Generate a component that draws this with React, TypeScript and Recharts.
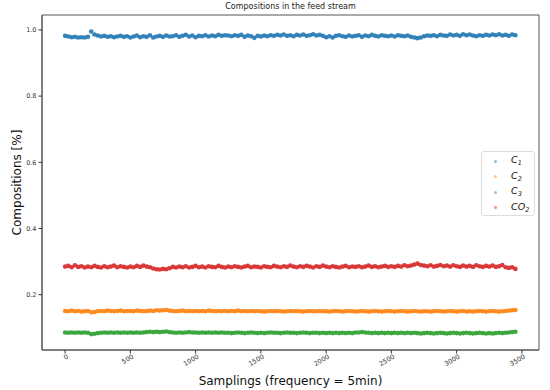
import React from "react";
import { ScatterChart, Scatter, XAxis, YAxis, Label, ReferenceArea } from "recharts";

// sampling index, one point every 25 samples (0 .. 3450)
const STEP = 25;

const c1 = [
  0.982, 0.98, 0.978, 0.979, 0.977, 0.978, 0.977, 0.979, 0.995, 0.986,
  0.983, 0.98, 0.982, 0.979, 0.981, 0.978, 0.98, 0.982, 0.979, 0.981,
  0.977, 0.98, 0.983, 0.978, 0.981, 0.979, 0.984, 0.977, 0.98, 0.982,
  0.979, 0.983, 0.98, 0.981, 0.984, 0.979, 0.982, 0.985, 0.98, 0.983,
  0.978, 0.982, 0.981, 0.984, 0.98, 0.983, 0.981, 0.985, 0.982, 0.984,
  0.983, 0.981, 0.984, 0.982, 0.985, 0.979, 0.983, 0.981, 0.976, 0.982,
  0.98, 0.983, 0.981, 0.984, 0.982, 0.985, 0.983, 0.986, 0.982, 0.984,
  0.981, 0.985, 0.983, 0.986, 0.982, 0.984, 0.987, 0.983, 0.985, 0.982,
  0.978, 0.981, 0.977, 0.982, 0.984, 0.981, 0.979, 0.983, 0.98, 0.982,
  0.984, 0.979, 0.983, 0.981, 0.985, 0.982, 0.98, 0.984, 0.982, 0.981,
  0.983, 0.98, 0.984, 0.982, 0.981, 0.983, 0.979, 0.977, 0.975, 0.977,
  0.981, 0.983, 0.982, 0.984, 0.981, 0.985, 0.983, 0.982, 0.986, 0.983,
  0.985, 0.982, 0.987, 0.984, 0.986, 0.983, 0.981, 0.984, 0.982, 0.985,
  0.983, 0.986, 0.984, 0.987, 0.983, 0.985, 0.982, 0.986, 0.984,
];

const c2 = [
  0.151, 0.15, 0.152, 0.15, 0.151, 0.149, 0.15, 0.151, 0.147, 0.148,
  0.15, 0.151, 0.15, 0.152, 0.151, 0.15, 0.151, 0.152, 0.15, 0.151,
  0.151, 0.15, 0.152, 0.151, 0.15, 0.151, 0.152, 0.151, 0.153, 0.152,
  0.153, 0.154, 0.152, 0.151, 0.15, 0.151, 0.152, 0.15, 0.151, 0.15,
  0.151, 0.15, 0.151, 0.15, 0.152, 0.151, 0.15, 0.151, 0.15, 0.151,
  0.15, 0.151, 0.15, 0.152, 0.15, 0.151, 0.15, 0.151, 0.15, 0.151,
  0.15, 0.149, 0.15, 0.151, 0.15, 0.151, 0.15, 0.149, 0.15, 0.151,
  0.15, 0.151, 0.15, 0.149, 0.15, 0.151, 0.15, 0.15, 0.151, 0.15,
  0.15, 0.149, 0.15, 0.151, 0.15, 0.149, 0.15, 0.151, 0.15, 0.149,
  0.15, 0.151, 0.15, 0.149, 0.15, 0.151, 0.15, 0.149, 0.15, 0.151,
  0.15, 0.149, 0.15, 0.151, 0.15, 0.149, 0.15, 0.151, 0.15, 0.149,
  0.15, 0.15, 0.149, 0.15, 0.151, 0.15, 0.149, 0.15, 0.151, 0.15,
  0.149, 0.15, 0.151, 0.149, 0.15, 0.149, 0.15, 0.151, 0.15, 0.149,
  0.15, 0.151, 0.15, 0.149, 0.15, 0.151, 0.152, 0.153, 0.154,
];

const c3 = [
  0.086, 0.085, 0.086, 0.085, 0.086, 0.085, 0.086, 0.085, 0.081, 0.082,
  0.084, 0.085, 0.086, 0.085, 0.086, 0.085, 0.086, 0.085, 0.086, 0.085,
  0.086, 0.085, 0.086, 0.085, 0.086, 0.087, 0.088, 0.087, 0.088, 0.087,
  0.088, 0.089, 0.087, 0.086, 0.085, 0.086, 0.085, 0.086, 0.087, 0.086,
  0.086, 0.085, 0.086, 0.085, 0.086, 0.085, 0.086, 0.085, 0.086, 0.085,
  0.085, 0.084, 0.085, 0.086, 0.085, 0.084, 0.085, 0.086, 0.085, 0.084,
  0.085, 0.084, 0.085, 0.086, 0.085, 0.085, 0.084, 0.085, 0.086, 0.085,
  0.085, 0.084, 0.085, 0.086, 0.085, 0.084, 0.085, 0.085, 0.084, 0.085,
  0.084, 0.085, 0.084, 0.085, 0.084, 0.085, 0.084, 0.085, 0.084, 0.086,
  0.086, 0.087, 0.086, 0.085, 0.084, 0.085, 0.084, 0.085, 0.084, 0.085,
  0.084, 0.085, 0.084, 0.085, 0.084, 0.085, 0.084, 0.085, 0.084, 0.083,
  0.084, 0.085, 0.084, 0.083, 0.084, 0.085, 0.084, 0.083, 0.084, 0.085,
  0.084, 0.083, 0.084, 0.085, 0.084, 0.083, 0.084, 0.085, 0.084, 0.083,
  0.084, 0.083, 0.084, 0.085, 0.084, 0.085, 0.086, 0.087, 0.088,
];

const co2 = [
  0.285, 0.287, 0.283, 0.289, 0.284, 0.286, 0.282, 0.285, 0.283, 0.287,
  0.284, 0.282, 0.286, 0.283, 0.285, 0.288, 0.283, 0.286, 0.284, 0.282,
  0.285, 0.283, 0.287, 0.284, 0.288, 0.285, 0.283, 0.279, 0.277, 0.276,
  0.278, 0.277, 0.28, 0.284, 0.282, 0.285, 0.283, 0.286, 0.282, 0.284,
  0.287, 0.283, 0.285, 0.282, 0.286, 0.284, 0.283, 0.287, 0.284, 0.282,
  0.285, 0.283, 0.286, 0.284, 0.282, 0.285, 0.287, 0.283, 0.285, 0.284,
  0.282, 0.286, 0.284, 0.283, 0.287, 0.285, 0.283, 0.286, 0.284, 0.288,
  0.285, 0.283, 0.286, 0.284, 0.287, 0.285, 0.282, 0.286, 0.284, 0.288,
  0.285, 0.283, 0.286, 0.284, 0.282, 0.285, 0.287, 0.283, 0.285, 0.284,
  0.286, 0.283, 0.285, 0.288, 0.284, 0.286, 0.283, 0.285, 0.287, 0.284,
  0.286, 0.284, 0.287, 0.285, 0.289, 0.286, 0.288, 0.291, 0.294, 0.29,
  0.288, 0.286, 0.289, 0.285, 0.287, 0.29, 0.286, 0.288, 0.285, 0.289,
  0.286, 0.284, 0.288, 0.285, 0.287, 0.284, 0.289, 0.286, 0.284, 0.287,
  0.285, 0.288, 0.284, 0.286, 0.29, 0.283, 0.281, 0.283, 0.278,
];

const samplings = c1.map((_, i) => i * STEP);

const xTicks = [0, 500, 1000, 1500, 2000, 2500, 3000, 3500];
const yTicks = [0.2, 0.4, 0.6, 0.8, 1.0];
const xDomain: [number, number] = [-177, 3631];
const yDomain: [number, number] = [0.033, 1.045];

const series = [
  { key: "c1", name: "C", sub: "1", color: "#1f77b4", values: c1 },
  { key: "c2", name: "C", sub: "2", color: "#ff7f0e", values: c2 },
  { key: "c3", name: "C", sub: "3", color: "#2ca02c", values: c3 },
  { key: "co2", name: "CO", sub: "2", color: "#d62728", values: co2 },
];

const FONT = "'DejaVu Sans', sans-serif";
const SPINE = "#555";

function XTick({ x, y, payload }: any) {
  return (
    <g transform={`translate(${x},${y})`}>
      <text x={2} y={4} transform="rotate(-30)" textAnchor="end" fontSize={6.5} fill="#333" fontFamily={FONT}>
        {payload.value}
      </text>
    </g>
  );
}

function YTick({ x, y, payload }: any) {
  return (
    <text x={x} y={y} dy={2.3} textAnchor="end" fontSize={6.5} fill="#333" fontFamily={FONT}>
      {payload.value.toFixed(1)}
    </text>
  );
}

export default function App() {
  return (
    <div style={{ position: "absolute", left: 0, top: 0, width: 550, height: 390, background: "#fff", fontFamily: FONT }}>
      <div style={{ position: "absolute", left: 42, width: 497, top: 2, textAlign: "center", fontSize: 8, color: "#222" }}>
        Compositions in the feed stream
      </div>
      <ScatterChart width={550} height={390} margin={{ top: 15, right: 11, left: 0, bottom: 0 }}>
        <XAxis
          type="number"
          dataKey="x"
          domain={xDomain}
          ticks={xTicks}
          height={40}
          tick={<XTick />}
          tickSize={3.5}
          stroke={SPINE}
          tickLine={{ stroke: "#333" }}
        >
          <Label
            value="Samplings (frequency = 5min)"
            position="insideBottom"
            offset={5}
            style={{ fontSize: 12, fill: "#111", fontFamily: FONT }}
          />
        </XAxis>
        <YAxis
          type="number"
          dataKey="y"
          domain={yDomain}
          ticks={yTicks}
          width={42}
          tickSize={3.5}
          tickMargin={2}
          tick={<YTick />}
          stroke={SPINE}
          tickLine={{ stroke: "#333" }}
        >
          <Label
            value="Compositions [%]"
            angle={-90}
            position="insideLeft"
            offset={17}
            style={{ fontSize: 12, fill: "#111", fontFamily: FONT, textAnchor: "middle" }}
          />
        </YAxis>
        <ReferenceArea
          x1={xDomain[0]}
          x2={xDomain[1]}
          y1={yDomain[0]}
          y2={yDomain[1]}
          fill="none"
          stroke={SPINE}
          strokeWidth={1}
          ifOverflow="visible"
        />
        {series.map((s) => (
          <Scatter
            key={s.key}
            name={s.key}
            data={s.values.map((v, i) => ({ x: samplings[i], y: v }))}
            isAnimationActive={false}
            shape={(p: any) => <circle cx={p.cx} cy={p.cy} r={2.3} fill={s.color} fillOpacity={0.9} />}
          />
        ))}
      </ScatterChart>
      <div
        style={{
          position: "absolute",
          left: 481,
          top: 151,
          width: 52,
          height: 63,
          border: "1px solid #ddd",
          borderRadius: 3,
          background: "rgba(255,255,255,0.8)",
        }}
      >
        {series.map((s, i) => (
          <div key={s.key} style={{ position: "absolute", left: 0, top: 1 + i * 15.5, height: 15.5, width: 52 }}>
            <span
              style={{
                position: "absolute",
                left: 11.5,
                top: 6.5,
                width: 3,
                height: 3,
                borderRadius: "50%",
                background: s.color,
                opacity: 0.5,
              }}
            />
            <span style={{ position: "absolute", left: 29, top: 0, fontSize: 9.5, fontStyle: "italic", lineHeight: "14px", color: "#111" }}>
              {s.name}
              <sub style={{ fontSize: 6.5, verticalAlign: "-2px" }}>{s.sub}</sub>
            </span>
          </div>
        ))}
      </div>
    </div>
  );
}
